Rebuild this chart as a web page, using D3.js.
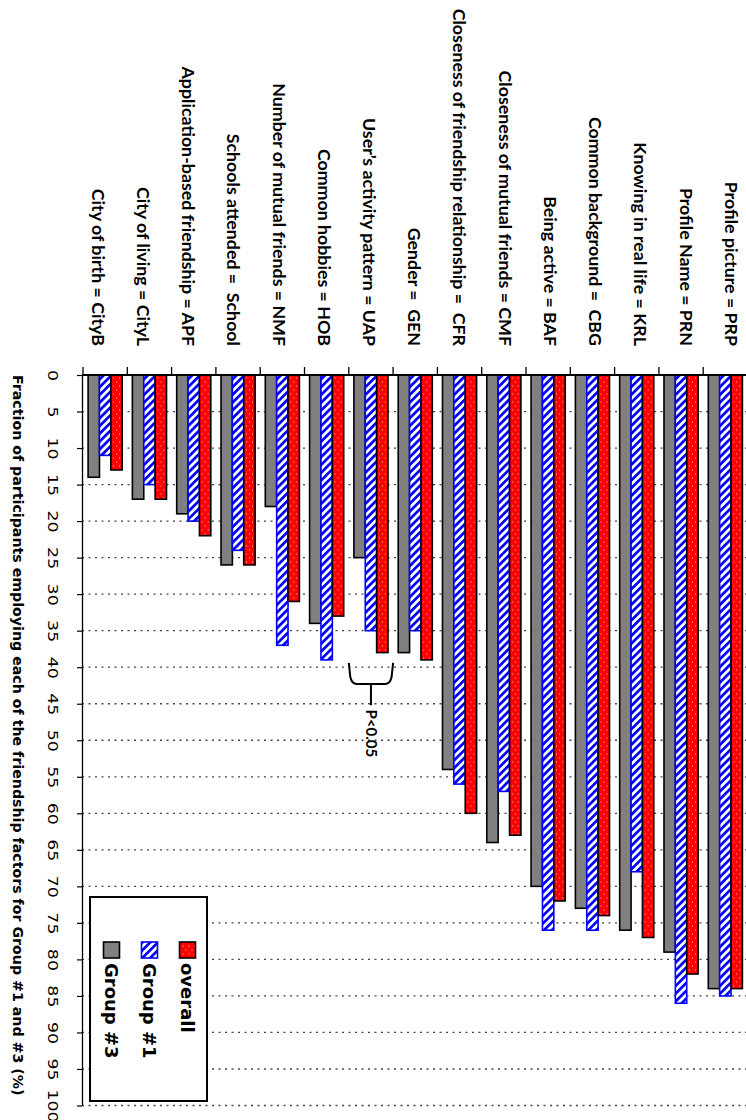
<!DOCTYPE html>
<html><head><meta charset="utf-8">
<script src="https://cdn.jsdelivr.net/npm/d3@7"></script>
<style>body{margin:0;background:#fff} svg{display:block}</style>
</head><body><svg id="c" width="746" height="1120"></svg>
<script>
const categories = ["City of birth = CityB","City of living = CityL","Application-based friendship = APF","Schools attended =  School","Number of mutual friends = NMF","Common hobbies = HOB","User\u2019s activity pattern = UAP","Gender =  GEN","Closeness of friendship relationship =  CFR","Closeness of mutual friends = CMF","Being active = BAF","Common background =  CBG","Knowing in real life = KRL","Profile Name = PRN","Profile picture = PRP"];
const seriesNames = ["Group #3","Group #1","overall"];
const group3  = [14,17,19,26,18,34,25,38,54,64,70,73,76,79,84];
const group1  = [11,15,20,24,37,39,35,35,56,57,76,76,68,86,85];
const overall = [13,17,22,26,31,33,38,39,60,63,72,74,77,82,84];
const valueTicks = d3.range(0, 101, 5);
const legendOrder = ["overall","Group #1","Group #3"];
const titleText = "Fraction of participants employing each of the friendship factors for Group #1 and #3 (%)";
const annotation = {category: "User\u2019s activity pattern = UAP", text: "P<0.05", top: 39.4, bottom: 42.3, stem: 45.2, label: 45.8};

const seriesValues = {"Group #3": group3, "Group #1": group1, "overall": overall};
const svg = d3.select("#c");
const defs = svg.append("defs");
const dots = defs.append("pattern").attr("id","dots").attr("patternUnits","userSpaceOnUse").attr("width",6).attr("height",8);
dots.append("rect").attr("width",6).attr("height",8).attr("fill","#ff0000");
dots.append("rect").attr("x",1).attr("y",1.5).attr("width",1).attr("height",1).attr("fill","#ffd0d0");
dots.append("rect").attr("x",4).attr("y",5.5).attr("width",1).attr("height",1).attr("fill","#ffd0d0");
const hatch = defs.append("pattern").attr("id","hatch").attr("patternUnits","userSpaceOnUse").attr("width",5.5).attr("height",5.5).attr("patternTransform","rotate(45)");
hatch.append("rect").attr("width",5.5).attr("height",5.5).attr("fill","#fff");
hatch.append("rect").attr("width",2.7).attr("height",5.5).attr("fill","#0000ff");

const fills = {"Group #3": "#808080", "Group #1": "url(#hatch)", "overall": "url(#dots)"};
const strokes = {"Group #3": "#000", "Group #1": "#0000ff", "overall": "#000"};

const axisX = 82, plotRight = 746;
const x = d3.scaleBand().domain(categories).range([85, 745.5]).paddingInner(0.23).paddingOuter(0.07);
const xi = d3.scaleBand().domain(seriesNames).range([0, x.bandwidth()]);
const y = d3.scaleLinear().domain([0, 100]).range([375, 1105.5]);
const labelPos = d3.scalePoint().domain(categories).range([98, 731]);

// grid
svg.append("g").selectAll("line").data(valueTicks.filter(v => v > 0)).join("line")
  .attr("x1", axisX).attr("x2", plotRight).attr("y1", d => y(d)).attr("y2", d => y(d))
  .attr("stroke", "#444").attr("stroke-width", 1.3).attr("stroke-dasharray", "2,4.5");

// bars
const rows = categories.map((c, i) => ({c, vals: seriesNames.map(s => ({s, v: seriesValues[s][i]}))}));
svg.append("g").selectAll("g").data(rows).join("g")
  .attr("transform", d => `translate(${x(d.c)},0)`)
  .selectAll("rect").data(d => d.vals).join("rect")
  .attr("x", d => xi(d.s)).attr("width", xi.bandwidth())
  .attr("y", y(0)).attr("height", d => y(d.v) - y(0))
  .attr("fill", d => fills[d.s]).attr("stroke", d => strokes[d.s]).attr("stroke-width", 1.6);

// baseline
svg.append("line").attr("x1", axisX).attr("x2", plotRight).attr("y1", y(0)).attr("y2", y(0))
  .attr("stroke", "#000").attr("stroke-width", 2);
// category ticks
const gapHalf = (x.step() - x.bandwidth()) / 2;
const tickXs = categories.map(c => x(c) - gapHalf).concat([x(categories[categories.length-1]) + x.bandwidth() + gapHalf]);
svg.append("g").selectAll("line").data(tickXs).join("line")
  .attr("x1", d => d).attr("x2", d => d).attr("y1", y(0)).attr("y2", y(0) - 8)
  .attr("stroke", "#000").attr("stroke-width", 1.3);

// value axis
const yAxis = svg.append("g").attr("transform", `translate(${axisX},0)`)
  .call(d3.axisLeft(y).tickValues(valueTicks).tickSize(5).tickSizeOuter(0).tickFormat(d3.format("d")));
yAxis.select(".domain").attr("stroke", "#000").attr("stroke-width", 1.3);
yAxis.selectAll(".tick line").attr("stroke", "#000").attr("stroke-width", 1.2);
yAxis.selectAll(".tick text").attr("x", null).attr("dy", "0.36em")
  .attr("transform", "translate(-29,0) rotate(90) scale(1.2,1)").attr("text-anchor", "middle")
  .attr("font-family", "DejaVu Sans").attr("font-size", 14.5).attr("fill", "#000");

// category labels
svg.append("g").selectAll("text").data(categories).join("text")
  .attr("transform", d => `translate(${labelPos(d)},346) rotate(90)`)
  .attr("text-anchor", "end").attr("dy", "0.35em")
  .attr("font-family", "Lato").attr("font-weight", "bold").attr("font-size", 17.8)
  .style("white-space", "pre").text(d => d);

// axis title
svg.append("text").attr("transform", `translate(18,375) rotate(90)`)
  .attr("dy", "0.35em").attr("font-family", "DejaVu Sans").attr("font-weight", "bold")
  .attr("font-size", 14.2).text(titleText);

// annotation bracket
const ac = x(annotation.category) + x.bandwidth() / 2, hw = x.step() / 2;
const bt = y(annotation.top), bb = y(annotation.bottom);
svg.append("path")
  .attr("d", `M${ac-hw},${bt} L${ac-hw+1.5},${bb-7} Q${ac-hw+3},${bb} ${ac-hw+8},${bb} L${ac+hw-8},${bb} Q${ac+hw-3},${bb} ${ac+hw-1.5},${bb-7} L${ac+hw},${bt} M${ac},${bb} L${ac},${y(annotation.stem)}`)
  .attr("fill", "none").attr("stroke", "#000").attr("stroke-width", 2);
svg.append("text").attr("transform", `translate(${ac},${y(annotation.label)}) rotate(90)`)
  .attr("dy", "0.35em").attr("font-family", "Lato").attr("font-weight", "bold").attr("font-size", 15)
  .text(annotation.text);

// legend
const lg = svg.append("g");
lg.append("rect").attr("x", 90).attr("y", 897).attr("width", 117).attr("height", 204)
  .attr("fill", "#fff").attr("stroke", "#000").attr("stroke-width", 2);
const li = lg.selectAll("g").data(legendOrder).join("g")
  .attr("transform", (d, i) => `translate(${187.5 - i * 38},0)`);
li.append("rect").attr("x", -8).attr("y", 942).attr("width", 16).attr("height", 16)
  .attr("fill", d => fills[d]).attr("stroke", d => strokes[d]).attr("stroke-width", 1.6);
li.append("text").attr("transform", "translate(0,963) rotate(90)").attr("dy", "0.36em")
  .attr("font-family", "DejaVu Sans").attr("font-weight", "bold").attr("font-size", 18)
  .text(d => d);
</script></body></html>
